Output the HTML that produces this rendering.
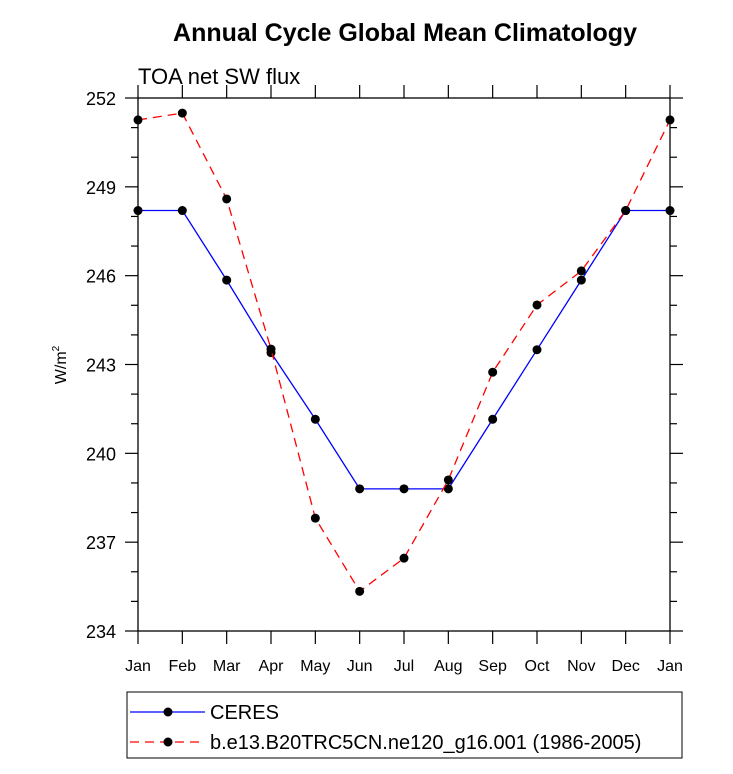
<!DOCTYPE html>
<html><head><meta charset="utf-8"><style>
body{margin:0;background:#fff;}
svg text{font-family:"Liberation Sans",Arial,sans-serif;}
</style></head><body>
<svg id="chart" width="733" height="769">
<text x="405" y="41" text-anchor="middle" font-size="25" font-weight="bold">Annual Cycle Global Mean Climatology</text>
<text x="138" y="84" font-size="22">TOA net SW flux</text>
<text transform="translate(66,365) rotate(-90)" text-anchor="middle" font-size="16">W/m<tspan font-size="10" dy="-7">2</tspan></text>
<g id="axes"></g>
<g id="series"></g>
<g>
<rect x="127" y="692" width="555" height="66" fill="none" stroke="#000" stroke-width="1"/>
<line x1="130" y1="712" x2="205" y2="712" stroke="#0000ff" stroke-width="1.3"/>
<circle cx="168" cy="712" r="4.5" fill="#000"/>
<text x="210" y="719" font-size="20">CERES</text>
<line x1="130" y1="742" x2="205" y2="742" stroke="#ff0000" stroke-width="1.3" stroke-dasharray="9,6"/>
<circle cx="168" cy="742" r="4.5" fill="#000"/>
<text x="210" y="749" font-size="20">b.e13.B20TRC5CN.ne120_g16.001 (1986-2005)</text>
</g>
</svg>
<script>
const months=["Jan","Feb","Mar","Apr","May","Jun","Jul","Aug","Sep","Oct","Nov","Dec","Jan"];
const ceres=[248.2,248.2,245.85,243.4,241.15,238.8,238.8,238.8,241.15,243.5,245.85,248.2,248.2];
const model=[251.26,251.49,248.59,243.52,237.81,235.34,236.46,239.1,242.74,245.01,246.16,248.2,251.26];
const yTicks=[234,237,240,243,246,249,252];
const NS="http://www.w3.org/2000/svg";
const L=138,R=670,T=98,B=631,ymin=234,ymax=252;
const xs=i=>L+(R-L)*i/(months.length-1);
const ys=v=>B-(B-T)*(v-ymin)/(ymax-ymin);
function mk(tag,attrs,parent){const e=document.createElementNS(NS,tag);for(const k in attrs)e.setAttribute(k,attrs[k]);parent.appendChild(e);return e;}
const ax=document.getElementById('axes');
const frame=mk('rect',{x:L,y:T,width:R-L,height:B-T,fill:'none',stroke:'#000','stroke-width':1.3},ax);


for(let v=ymin;v<=ymax;v++){
  const major=(v-ymin)%3===0,len=major?13:7,y=ys(v);
  mk('line',{x1:L-len,y1:y,x2:L,y2:y,stroke:'#000','stroke-width':1.2},ax);
  mk('line',{x1:R,y1:y,x2:R+len,y2:y,stroke:'#000','stroke-width':1.2},ax);
}
yTicks.forEach(v=>{
  const t=mk('text',{x:L-22,y:ys(v)+7,'text-anchor':'end','font-size':18},ax);
  t.textContent=v;
  
  
});
months.forEach((m,i)=>{
  const x=xs(i);
  mk('line',{x1:x,y1:B,x2:x,y2:B+13,stroke:'#000','stroke-width':1.2},ax);
  mk('line',{x1:x,y1:T-13,x2:x,y2:T,stroke:'#000','stroke-width':1.2},ax);
  const t=mk('text',{x:x,y:B+40,'text-anchor':'middle','font-size':16},ax);
  t.textContent=m;
  
  
});
const sg=document.getElementById('series');
function draw(vals,color,dash,name){
  const p=mk('polyline',{points:vals.map((v,i)=>xs(i)+','+ys(v)).join(' '),fill:'none',stroke:color,'stroke-width':1.3,'stroke-dasharray':dash},sg);
  
  
  vals.forEach((v,i)=>{
    const c=mk('circle',{cx:xs(i),cy:ys(v),r:4.5,fill:'#000'},sg);
    
    
  });
}
draw(ceres,'#0000ff','none','ceres');
draw(model,'#ff0000','9,6','model');
</script>
</body></html>
